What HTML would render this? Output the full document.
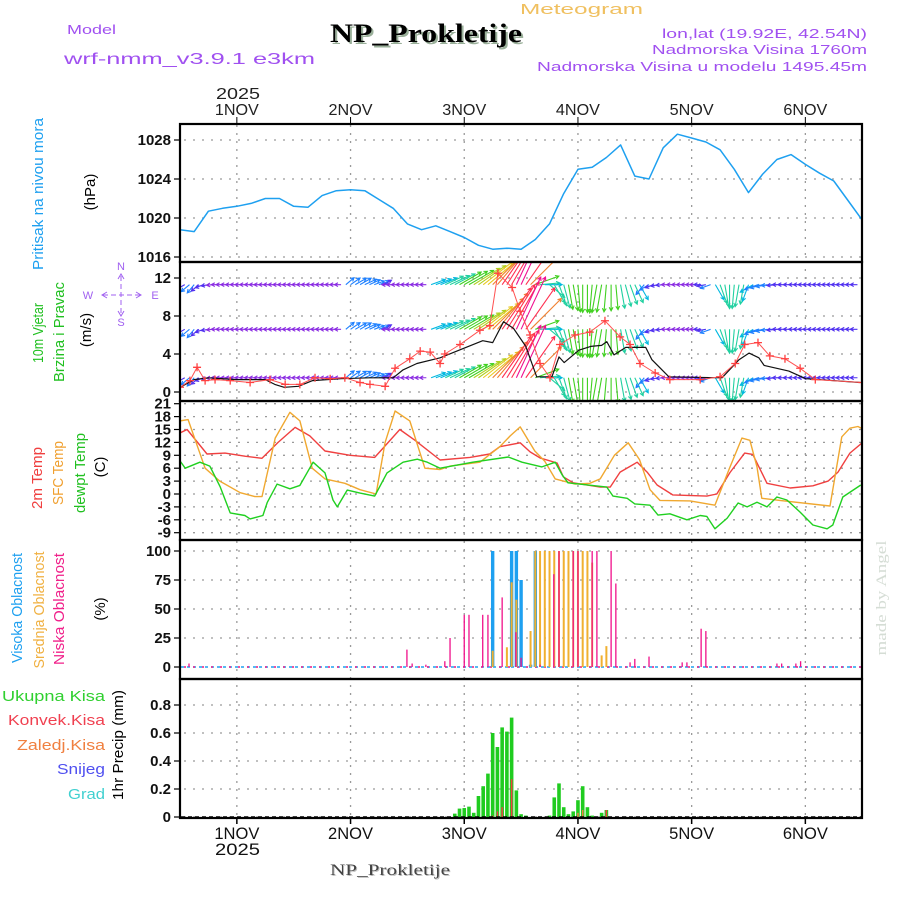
<!DOCTYPE html>
<html><head><meta charset="utf-8">
<style>
body{margin:0;background:#fff;width:900px;height:900px;overflow:hidden}
svg{display:block}
text{font-family:"Liberation Sans",sans-serif}
.tk{font-size:15px;font-weight:bold;fill:#111;text-anchor:end}
.lbl{font-size:15px}
</style></head>
<body>
<svg id="svg" width="900" height="900" viewBox="0 0 900 900">
<defs>
<clipPath id="cp1"><rect x="181" y="125" width="681" height="136"/></clipPath>
<clipPath id="cp2"><rect x="181" y="263" width="681" height="137"/></clipPath>
<clipPath id="cp3"><rect x="181" y="402" width="681" height="137"/></clipPath>
<clipPath id="cp4"><rect x="181" y="541" width="681" height="137"/></clipPath>
<clipPath id="cp5"><rect x="181" y="680" width="681" height="137"/></clipPath>
</defs>
<text x="520" y="14" textLength="123" lengthAdjust="spacingAndGlyphs" style="font-size:15px;fill:#f0c060">Meteogram</text>
<text x="67" y="34" textLength="49" lengthAdjust="spacingAndGlyphs" style="font-size:13px;fill:#a050f0">Model</text>
<text x="64" y="64" textLength="251" lengthAdjust="spacingAndGlyphs" style="font-size:16px;fill:#a050f0">wrf-nmm_v3.9.1 e3km</text>
<text x="332" y="44" textLength="192" lengthAdjust="spacingAndGlyphs" style="font-family:'Liberation Serif',serif;font-weight:bold;font-size:26px;fill:#9ab09a">NP_Prokletije</text>
<text x="330" y="42" textLength="192" lengthAdjust="spacingAndGlyphs" style="font-family:'Liberation Serif',serif;font-weight:bold;font-size:26px;fill:#000">NP_Prokletije</text>
<text x="662" y="38" textLength="205" lengthAdjust="spacingAndGlyphs" style="font-size:13px;fill:#a050f0">lon,lat (19.92E, 42.54N)</text>
<text x="652" y="54" textLength="215" lengthAdjust="spacingAndGlyphs" style="font-size:13px;fill:#a050f0">Nadmorska Visina 1760m</text>
<text x="537" y="71" textLength="330" lengthAdjust="spacingAndGlyphs" style="font-size:13px;fill:#a050f0">Nadmorska Visina u modelu 1495.45m</text>
<text x="216" y="99" textLength="44" lengthAdjust="spacingAndGlyphs" style="font-size:16px;fill:#222">2025</text>

<text transform="translate(43,194) rotate(-90)" text-anchor="middle" class="lbl" style="fill:#1ea0f0" textLength="152" lengthAdjust="spacingAndGlyphs">Pritisak na nivou mora</text>
<text transform="translate(95,192) rotate(-90)" text-anchor="middle" class="lbl" style="fill:#000">(hPa)</text>

<text transform="translate(43,333) rotate(-90)" text-anchor="middle" class="lbl" style="fill:#20c020" textLength="60" lengthAdjust="spacingAndGlyphs">10m Vjetar</text>
<text transform="translate(64,332) rotate(-90)" text-anchor="middle" class="lbl" style="fill:#20c020" textLength="100" lengthAdjust="spacingAndGlyphs">Brzina i Pravac</text>
<text transform="translate(91,330) rotate(-90)" text-anchor="middle" class="lbl" style="fill:#000">(m/s)</text>
<g style="font-size:11px;fill:#a060f0" text-anchor="middle">
<text x="121" y="270">N</text><text x="121" y="326">S</text><text x="88" y="299">W</text><text x="155" y="299">E</text>
<line x1="121" y1="276" x2="121" y2="314" stroke="#a060f0" stroke-dasharray="5,3"/>
<line x1="103" y1="295" x2="140" y2="295" stroke="#a060f0" stroke-dasharray="5,3"/>
<polyline points="118,279 121,274 124,279" fill="none" stroke="#a060f0"/>
<polyline points="118,311 121,316 124,311" fill="none" stroke="#a060f0"/>
<polyline points="107,292 102,295 107,298" fill="none" stroke="#a060f0"/>
<polyline points="136,292 141,295 136,298" fill="none" stroke="#a060f0"/>
</g>

<text transform="translate(42,478) rotate(-90)" text-anchor="middle" class="lbl" style="fill:#f04040" textLength="62" lengthAdjust="spacingAndGlyphs">2m Temp</text>
<text transform="translate(63,473) rotate(-90)" text-anchor="middle" class="lbl" style="fill:#f0a030" textLength="64" lengthAdjust="spacingAndGlyphs">SFC Temp</text>
<text transform="translate(85,473) rotate(-90)" text-anchor="middle" class="lbl" style="fill:#20c020" textLength="80" lengthAdjust="spacingAndGlyphs">dewpt Temp</text>
<text transform="translate(105,467) rotate(-90)" text-anchor="middle" class="lbl" style="fill:#000">(C)</text>

<text transform="translate(22,608) rotate(-90)" text-anchor="middle" class="lbl" style="fill:#1ea0f0" textLength="110" lengthAdjust="spacingAndGlyphs">Visoka Oblacnost</text>
<text transform="translate(44,610) rotate(-90)" text-anchor="middle" class="lbl" style="fill:#f0b040" textLength="117" lengthAdjust="spacingAndGlyphs">Srednja Oblacnost</text>
<text transform="translate(64,609) rotate(-90)" text-anchor="middle" class="lbl" style="fill:#f0208a" textLength="112" lengthAdjust="spacingAndGlyphs">Niska Oblacnost</text>
<text transform="translate(105,609) rotate(-90)" text-anchor="middle" class="lbl" style="fill:#000">(%)</text>

<g style="font-size:15px" text-anchor="end">
<text x="105" y="701" style="fill:#30d030" textLength="103" lengthAdjust="spacingAndGlyphs">Ukupna  Kisa</text>
<text x="105" y="725" style="fill:#f04050" textLength="97" lengthAdjust="spacingAndGlyphs">Konvek.Kisa</text>
<text x="105" y="750" style="fill:#f08040" textLength="88" lengthAdjust="spacingAndGlyphs">Zaledj.Kisa</text>
<text x="105" y="774" style="fill:#5050f0" textLength="48" lengthAdjust="spacingAndGlyphs">Snijeg</text>
<text x="105" y="799" style="fill:#40d0d0" textLength="37" lengthAdjust="spacingAndGlyphs">Grad</text>
</g>
<text transform="translate(123,745) rotate(-90)" text-anchor="middle" class="lbl" style="fill:#000" textLength="110" lengthAdjust="spacingAndGlyphs">1hr Precip (mm)</text>

<text x="215" y="855" textLength="45" lengthAdjust="spacingAndGlyphs" style="font-size:17px;fill:#111">2025</text>
<text x="331" y="876" textLength="120" lengthAdjust="spacingAndGlyphs" style="font-family:'Liberation Serif',serif;font-size:16px;fill:#bbb">NP_Prokletije</text>
<text x="330" y="875" textLength="120" lengthAdjust="spacingAndGlyphs" style="font-family:'Liberation Serif',serif;font-size:16px;fill:#444">NP_Prokletije</text>
<text transform="translate(886,598) rotate(-90)" text-anchor="middle" textLength="115" lengthAdjust="spacingAndGlyphs" style="font-family:'Liberation Serif',serif;font-size:15px;fill:#d5ddd5">made by Angel</text>
</svg>
<script>
// ---- data (hours from 31 Oct 12Z) ----
const dayLabels = ["1NOV","2NOV","3NOV","4NOV","5NOV","6NOV"];
const dayHours = [12,36,60,84,108,132];
const presTicks = [1016,1020,1024,1028];
const windTicks = [0,4,8,12];
const tempTicks = [-9,-6,-3,0,3,6,9,12,15,18,21];
const cloudTicks = [0,25,50,75,100];
const precipTicks = [0,0.2,0.4,0.6,0.8];
const precipTickLabels = ["0","0.2","0.4","0.6","0.8"];

const presHours = [0,3,6,9,12,15,18,21,24,27,30,33,36,39,42,45,48,51,54,57,60,63,66,69,72,75,78,81,84,87,90,93,96,99,102,105,108,111,114,117,120,123,126,129,132,135,138,141,144];
const presVals = [1018.8,1018.6,1020.7,1021.0,1021.2,1021.5,1022.0,1022.0,1021.2,1021.1,1022.3,1022.8,1022.9,1022.8,1021.9,1021.0,1019.4,1018.8,1019.2,1018.6,1018.0,1017.2,1016.8,1016.9,1016.8,1017.8,1019.4,1022.5,1025.0,1025.2,1026.2,1027.5,1024.3,1024.0,1027.2,1028.6,1028.2,1027.8,1027.0,1025.0,1022.6,1024.5,1026.0,1026.5,1025.5,1024.6,1023.8,1021.8,1019.8];

// hourly wind (direction the wind blows toward, degrees CCW from east), speed m/s
const windDir = [200,210,220,230,220,200,190,185,180,
180,180,180,180,180,180,180,180,180,180,180,180,180,180,180,180,180,180,180,180,180,180,180,180,180,180,
40,35,30,30,25,25,20,20,30,
180,180,180,180,180,180,180,180,180,
20,20,22,25,25,28,
30,30,30,32,35,38,
40,45,50,55,58,60,
65,65,55,45,
20,5,0,
-40,-60,-70,-75,-80,-80,-85,-90,-90,-95,-100,-100,-95,-90,-85,-80,-75,-70,-65,-60,
230,210,200,
190,185,180,180,180,180,180,180,180,180,190,200,
-60,-70,-80,-90,-95,-100,-100,-110,
210,200,195,190,185,185,180,180,180,
180,180,180,180,180,180,180,180,180,180,180,180,180,180];
const windSpd = [2.5,2.8,3,3,2.8,2.5,2,1.8,1.8,
1.8,1.8,1.8,1.8,1.8,1.8,1.8,1.8,1.8,1.8,1.8,1.8,1.8,1.8,1.8,1.8,1.8,1.8,1.8,1.8,1.8,1.8,1.8,1.8,1.8,1.8,
3,3.2,3.5,3.5,3.5,3.2,3,3,2.5,
1.8,1.8,1.8,1.8,1.8,1.8,1.8,1.8,1.8,
4,4.3,4.6,5,5.3,5.6,
6,6.3,6.6,7,7.4,8,
8.5,9,9.5,10,10.3,10.6,
11,11,10,9,
6,5,4.5,
5,5.2,5.5,5.8,6,6.2,6.4,6.5,6.5,6.6,6.6,6.5,6.4,6.2,6,5.8,5.5,5.2,5,4.5,
3.5,3,2.5,
2.2,2,1.8,1.6,1.5,1.5,1.5,1.6,1.8,2,2.5,3,
4.5,5,5.5,5.8,5.8,5.5,5,4.5,
4,3.8,3.5,3.2,3,2.8,2.6,2.4,2.2,
2,2,2,2,2,2,2,2,2,2,2,2,2,2];

const spdHours = [0,3,6,12,18,20,22,25,28,34,40,45,47,50,54.9,63.9,66,68.3,70.4,73,75.3,78.5,80,81.1,84.2,86.7,89,90.1,91.6,94.1,98.3,99.6,103.2,114.4,118,120.1,122.2,123.3,128.5,132.1,143.6];
const spdVals = [0.5,1.3,1.5,1.3,1.3,0.8,0.5,0.6,1.2,1.4,1.5,1.5,2.3,3,3.6,5.4,5.2,7.4,6.7,4.8,1.6,1.6,3.7,3.1,4.4,4.8,4.9,5.3,3.9,4.7,4.7,3.4,1.6,1.5,3.4,4.1,3.6,2.8,2.2,1.4,1.0];
const gustHours = [0,2.1,3.6,5.3,7.4,10.6,14.8,19,22.2,25.3,28.5,31.7,34.8,38,40.1,43.3,45.4,48.5,50.7,52.8,54.9,55.9,59.1,63.3,65.4,67.1,70.1,71.8,73.9,76,78.1,80.2,83.4,86.5,89.7,92.9,95,97.1,100.3,103.4,109.8,114,117.2,119.2,122,124.5,127.7,130.9,134.1,144];
const gustVals = [0.5,1.2,2.6,1.2,1.3,1.2,1,1.3,0.8,0.8,1.5,1.4,1.5,1,0.8,0.6,2.5,3.5,4.3,4.2,3,4,5,6.5,7,12.5,11,8.5,6,3,1.5,5,6,6.3,7.5,5.8,5,3,2,1.3,1.3,1.6,3,5,5.2,3.8,3.5,2.5,1.3,1];

const t2Hours = [0,1.5,5.7,9.5,13.7,17.3,20.7,24.3,27.4,30.6,35.9,41.1,46.4,49.6,54.9,61.2,65.4,67.5,71.8,73.9,76,79.6,80.9,83,88.7,90.8,92.9,96.5,98.6,100.7,104,111.2,113.3,116.1,119.2,120.9,123.9,128.8,133.6,136.8,138.9,141.4,144];
const t2Vals = [14.2,15,9.3,9.5,8.8,8.3,12,15.5,13.5,10,9,8.5,15,12.5,7.9,8.5,9.3,11,11.9,9.8,8.4,7.2,4,2.6,1.6,1.6,5.1,7.4,5.1,2.1,-0.2,-0.5,0,5,9.5,9.2,2.5,1.4,1.9,3,5.1,9.5,11.9];
const sfcHours = [0,1.7,5.3,8.4,12.7,15.8,17.3,20.1,23.2,25.3,27.9,30.6,34.8,38,41.4,43.3,45.4,48.5,51.7,54.9,57,63.3,67.5,69.7,71.8,74.9,77,79.2,83.4,86.5,88.7,91.7,94.6,97,99.2,101.3,107.7,112.9,116,118.6,120.3,121.8,122.8,126.6,137.2,139.7,141.4,143.1,144];
const sfcVals = [17,17.3,6,3,0.3,-0.6,-0.6,13,19,17,6,3.5,2.5,1,0,12,19.3,17,6,5.7,6.5,7.4,11,13.5,15.6,10,7.6,3.5,2.3,2.5,3.5,9,11.9,8,1,-1.5,-1.6,-2.6,6,13,12.5,6.3,-1,-1.5,-2.8,13.3,15.3,15.7,15.2];
const dewHours = [0,1.1,4.2,6.3,8.5,10.6,13.7,14.8,17.5,18.4,20.5,23.2,25.3,28.1,30.6,32.3,33.2,35.3,38,41.1,43.7,47.1,50.1,52.2,54.9,61.8,69.3,72.2,76.4,79.2,80.7,81.9,90.1,91.4,94.4,96,99.2,100.9,103.4,107,109.8,111.2,112.9,115.5,117.8,119.7,121.8,123.9,126,128.1,130.9,133.6,136.6,137.8,139.9,143.7];
const dewVals = [7.7,6,7.4,6.5,1.6,-4.4,-5,-5.8,-5,-2,2.3,1.2,2,7.4,4.9,-1.4,-3,0.9,0.2,-0.5,4.9,7.4,8.1,7.4,6,7.4,8.6,7.4,6.3,7.4,4.4,2.6,1.6,-0.5,-1,-2.3,-2.6,-4.9,-4.6,-6,-5,-5.2,-8.1,-5.6,-2.1,-3,-1.9,-3,-0.7,-1.4,-4.2,-7.2,-8.1,-7.2,-0.7,2.1];

const highHours = [66,70,71,72,74,75];
const highVals = [100,100,100,75,2,100];
const midHours = [66,69,70,71,74,75,76,77,78,79,80,81,82,83,84,85,86,87,89,90];
const midVals = [14,17,73,58,31,100,100,100,100,100,100,100,100,100,100,100,100,90,10,18];
const lowHours = [1.9,47.9,49,51.9,55.9,57,60,61,63.9,65,68,70.9,72,76,78.9,80,83,84,87,88,91,92,95,96,99,106,107,110,111,126,127,130,131];
const lowVals = [3,15,3,2,5,25,45,45,45,45,60,30,8,2,80,100,100,100,100,100,100,72,4,7,9,4,4,33,31,3,3,3,5];

const rainHours = [58,59,60,61,62,63,64,65,66,67,68,69,70,71,72,73,78,79,80,81,82,83,84,85,86,87,89,90];
const rainVals = [0.024,0.06,0.064,0.074,0.03,0.15,0.22,0.31,0.6,0.5,0.64,0.61,0.71,0.19,0.02,0.01,0.01,0.14,0.24,0.07,0.02,0.04,0.12,0.22,0.07,0.01,0.03,0.05];
const convHours = [66,67,68,70,90];
const convVals = [0.01,0.04,0.07,0.27,0.05];
const frzHours = [84,85];
const frzVals = [0.03,0.05];

// ---- axes ----
const X = h => 180 + h * 4.7375;
const yP = v => 140 + (1028 - v) * 9.75;
const yW = v => 392 - v * 9.5;
const yT = v => 494 - v * 4.3;
const yC = v => 667 - v * 1.16;
const yR = v => 817 - v * 140;
const NS = "http://www.w3.org/2000/svg";
const svg = document.getElementById('svg');
function mk(tag, attrs, parent) {
  const e = document.createElementNS(NS, tag);
  for (const k in attrs) e.setAttribute(k, attrs[k]);
  (parent || svg).appendChild(e);
  return e;
}
const panels = [[124,262,'cp1'],[262,401,'cp2'],[401,540,'cp3'],[540,679,'cp4'],[679,818,'cp5']];
const grid = mk('g', {});


dayHours.forEach(h => {
  const l = mk('line', {x1: X(h), x2: X(h), y1: 125, y2: 817, stroke: '#9a9a9a', 'stroke-width': 1.3, 'stroke-dasharray': '2,6'}, grid);
  
  
});
function hgrid(ticks, f, labels) {
  ticks.forEach((t, i) => {
    const y = f(t);
    const l = mk('line', {x1: 184, x2: 862, y1: y, y2: y, stroke: '#9a9a9a', 'stroke-width': 1.3, 'stroke-dasharray': '2,7'}, grid);
    
    
    const tm = mk('line', {x1: 174, x2: 180, y1: y, y2: y, stroke: '#000', 'stroke-width': 1.2}, grid);
    
    
    const tx = mk('text', {x: 171, y: y + 5, class: 'tk'}, grid);
    
    
    tx.textContent = labels ? labels[i] : String(t);
  });
}
hgrid(presTicks, yP);
hgrid(windTicks, yW);
hgrid(tempTicks, yT);
hgrid(cloudTicks, yC);
hgrid(precipTicks, yR, precipTickLabels);

dayHours.forEach((h, i) => {
  const t1 = mk('text', {x: X(h), y: 115, 'text-anchor': 'middle', textLength: 44, lengthAdjust: 'spacingAndGlyphs', style: 'font-size:16px;fill:#222'});
  
  
  t1.textContent = dayLabels[i];
  const t2 = mk('text', {x: X(h), y: 839, 'text-anchor': 'middle', textLength: 45, lengthAdjust: 'spacingAndGlyphs', style: 'font-size:17px;fill:#111'});
  
  
  t2.textContent = dayLabels[i];
  const k1 = mk('line', {x1: X(h), x2: X(h), y1: 117, y2: 124, stroke: '#000'});
  
  
  const k2 = mk('line', {x1: X(h), x2: X(h), y1: 818, y2: 824, stroke: '#000', 'stroke-width': 1.5});
  
  
});

function line(hs, vs, f, color, cp, name, w) {
  const pts = hs.map((h, i) => X(h).toFixed(1) + ',' + f(vs[i]).toFixed(1)).join(' ');
  const p = mk('polyline', {points: pts, fill: 'none', stroke: color, 'stroke-width': w || 1.3, 'clip-path': 'url(#' + cp + ')', 'stroke-linejoin': 'round'});
  
  
  return p;
}
line(presHours, presVals, yP, '#1ea0f0', 'cp1', 'pressure-line', 1.5);

function spdColor(s) {
  const c = ['#8a2be2','#8a2be2','#5030f0','#1e80ff','#00b8e0','#20d0a0','#40d020','#b0d020','#e8c820','#f08030','#ff3050','#f01090'];
  return c[Math.min(c.length - 1, Math.floor(s))];
}
const wg = mk('g', {'clip-path': 'url(#cp2)'});


[11.3, 6.6, 1.5].forEach(rowV => {
  windDir.forEach((d, h) => {
    const s = windSpd[h], a = d * Math.PI / 180;
    const len = 3 + 1.5 * Math.pow(s, 1.5);
    const x0 = X(h), y0 = yW(rowV);
    const x1 = x0 + len * Math.cos(a), y1 = y0 - len * Math.sin(a);
    const hb = 4, ang = 0.5;
    const bx = -Math.cos(a), by = Math.sin(a);
    const p1x = x1 + hb * (bx * Math.cos(ang) - by * Math.sin(ang)), p1y = y1 + hb * (bx * Math.sin(ang) + by * Math.cos(ang));
    const p2x = x1 + hb * (bx * Math.cos(-ang) - by * Math.sin(-ang)), p2y = y1 + hb * (bx * Math.sin(-ang) + by * Math.cos(-ang));
    const ar = mk('path', {d: `M${x0},${y0}L${x1},${y1}M${p1x},${p1y}L${x1},${y1}L${p2x},${p2y}`, stroke: spdColor(s), 'stroke-width': 1.1, fill: 'none'}, wg);
    
    
  });
});
line(spdHours, spdVals, yW, '#111', 'cp2', 'wind-speed-line', 1.2);
line(gustHours, gustVals, yW, '#ff5050', 'cp2', 'wind-gust-line', 1);
const gg = mk('g', {'clip-path': 'url(#cp2)'});


gustHours.forEach((h, i) => {
  const x = X(h), y = yW(gustVals[i]);
  const m = mk('path', {d: `M${x-4},${y}H${x+4}M${x},${y-4}V${y+4}`, stroke: '#ff4040', 'stroke-width': 1.3}, gg);
  
  
});

line(t2Hours, t2Vals, yT, '#f04040', 'cp3', 't2m-line', 1.4);
line(sfcHours, sfcVals, yT, '#f0a830', 'cp3', 'sfc-temp-line', 1.4);
line(dewHours, dewVals, yT, '#20d020', 'cp3', 'dewpoint-line', 1.4);

function bars(hs, vs, f, color, w, cp, name) {
  const g = mk('g', {'clip-path': 'url(#' + cp + ')'});
  
  
  hs.forEach((h, i) => {
    const y0 = f(0), y1 = f(vs[i]);
    const r = mk('rect', {x: X(h) - w / 2, y: y1, width: w, height: Math.max(0.5, y0 - y1), fill: color}, g);
    
    
  });
}
const z1 = mk('line', {x1: 181, x2: 862, y1: yC(0), y2: yC(0), stroke: '#1ea0f0', 'stroke-width': 1.5, 'stroke-dasharray': '3,3'});


const z2 = mk('line', {x1: 184, x2: 862, y1: yC(0), y2: yC(0), stroke: '#f0208a', 'stroke-width': 1.5, 'stroke-dasharray': '2,7'});


bars(highHours, highVals, yC, '#1ea0f0', 3.4, 'cp4', 'high-cloud-bar');
bars(midHours, midVals, yC, '#f0b030', 2, 'cp4', 'mid-cloud-bar');
bars(lowHours, lowVals, yC, '#f0108a', 1.3, 'cp4', 'low-cloud-bar');

bars(rainHours, rainVals, yR, '#20cc20', 3.6, 'cp5', 'total-rain-bar');
bars(convHours, convVals, yR, '#f04040', 1.5, 'cp5', 'convective-rain-bar');
bars(frzHours, frzVals, yR, '#f08040', 1.5, 'cp5', 'freezing-rain-bar');
const z3 = mk('line', {x1: 181, x2: 862, y1: 817, y2: 817, stroke: '#000', 'stroke-width': 1.5, 'stroke-dasharray': '4,3'});



panels.forEach((p, i) => {
  const r = mk('rect', {x: 180, y: p[0], width: 682, height: p[1] - p[0], fill: 'none', stroke: '#000', 'stroke-width': 2.2});
  
  
});
</script>
</body></html>
